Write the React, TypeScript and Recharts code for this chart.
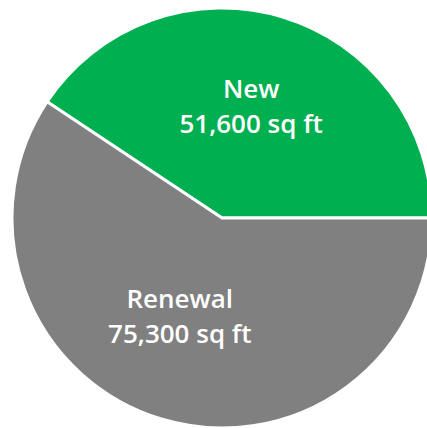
import React from 'react';
import { PieChart, Pie, Cell } from 'recharts';

const categories = ['New', 'Renewal'];
const values = [51600, 75300];
const colors = ['#00B050', '#808080'];

const data = categories.map((name, i) => ({ name, value: values[i] }));

const RADIAN = Math.PI / 180;
// small nudges so labels sit where the original placed them
const labelNudge = [
  { dx: -3, dy: -7 },
  { dx: -10, dy: -11 },
];

const renderLabel = (props: any) => {
  const { cx, cy, midAngle, outerRadius, index } = props;
  const r = outerRadius * 0.53;
  const x = cx + r * Math.cos(-midAngle * RADIAN) + labelNudge[index].dx;
  const y = cy + r * Math.sin(-midAngle * RADIAN) + labelNudge[index].dy;
  const d = data[index];
  return (
    <text
      x={x}
      y={y}
      fill="#ffffff"
      textAnchor="middle"
      fontFamily="'Open Sans', sans-serif"
      fontSize={26}
      fontWeight={600}
    >
      <tspan x={x} dy={-6}>{d.name}</tspan>
      <tspan x={x} dy={35}>{`${d.value.toLocaleString('en-US')} sq ft`}</tspan>
    </text>
  );
};

const App: React.FC = () => {
  return (
    <div style={{ position: 'fixed', top: 0, left: 0, width: 427, height: 428, background: '#ffffff' }}>
      <PieChart width={427} height={428} margin={{ top: 0, right: 0, bottom: 0, left: 0 }}>
        <Pie
          data={data}
          dataKey="value"
          cx={222}
          cy={218}
          outerRadius={210}
          startAngle={0}
          endAngle={360}
          stroke="#ffffff"
          strokeWidth={3}
          label={renderLabel}
          labelLine={false}
          isAnimationActive={false}
        >
          {data.map((entry, index) => (
            <Cell key={`cell-${index}`} fill={colors[index]} />
          ))}
        </Pie>
      </PieChart>
    </div>
  );
};

export default App;
